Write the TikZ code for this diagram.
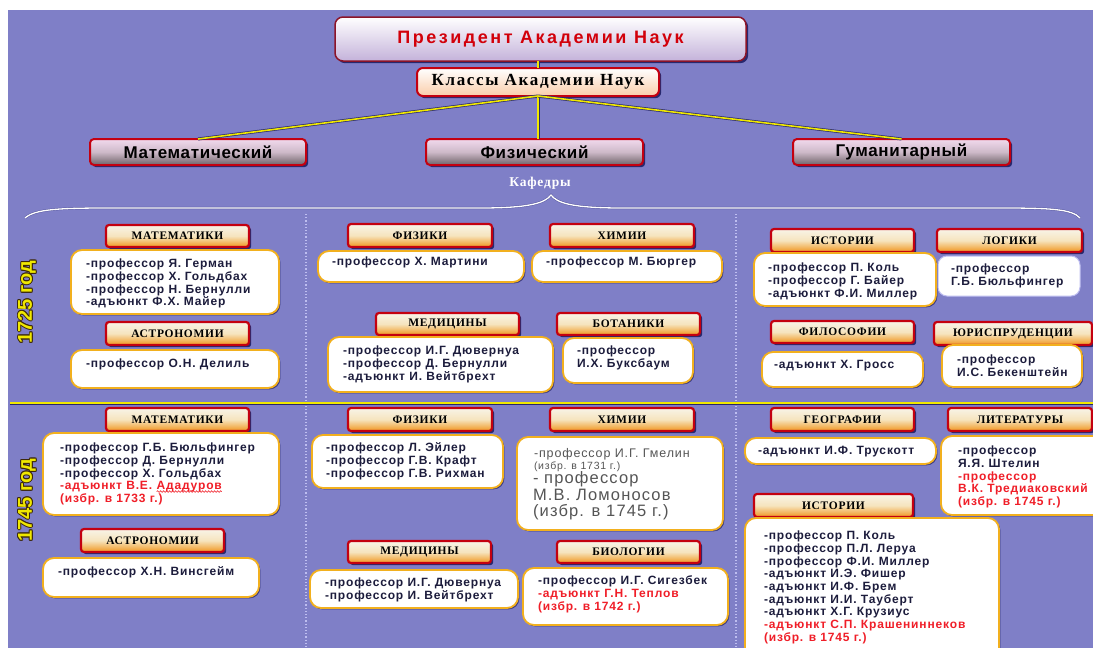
\documentclass[tikz,border=0pt]{standalone}
\usepackage{fontspec}
\setmainfont{Liberation Sans}
\newfontfamily\tnrfont{Liberation Serif}
\newfontfamily\tnrLS[LetterSpace=6]{Liberation Serif}
\newfontfamily\tnrCls[LetterSpace=10]{Liberation Serif}
\newfontfamily\sansLS[LetterSpace=7]{Liberation Sans}
\newfontfamily\sansWide[LetterSpace=14]{Liberation Sans}
\newfontfamily\sansMid[LetterSpace=4]{Liberation Sans}
\usetikzlibrary{shadows,decorations.pathmorphing}

\definecolor{bgpurple}{RGB}{127,127,199}
\definecolor{hdrred}{RGB}{196,0,16}
\definecolor{navy}{RGB}{40,40,110}
\definecolor{gold}{RGB}{242,176,30}
\definecolor{txt}{RGB}{28,28,60}
\definecolor{redt}{RGB}{240,30,40}
\definecolor{grayt}{RGB}{85,85,85}
\definecolor{ylw}{RGB}{240,232,0}
\definecolor{ydark}{RGB}{60,40,10}
\definecolor{hdrtop}{RGB}{248,244,232}
\definecolor{hdrmid}{RGB}{246,228,190}
\definecolor{hdrbot}{RGB}{240,150,30}
\definecolor{cattop}{RGB}{242,218,238}
\definecolor{catmid}{RGB}{205,185,200}
\definecolor{catbot}{RGB}{110,98,104}
\definecolor{presbot}{RGB}{196,178,218}
\definecolor{presframe}{RGB}{140,20,40}
\definecolor{presred}{RGB}{210,0,10}
\definecolor{clsbot}{RGB}{250,205,170}
\definecolor{dotc}{RGB}{190,190,240}

\newcommand\rl[1]{\textcolor{redt}{#1}}

\tikzset{
  every node/.style={inner sep=0pt, outer sep=0pt},
  shadowed/.style={drop shadow={shadow xshift=2.2pt, shadow yshift=-2.2pt, fill=navy, opacity=1}},
  hdrbox/.style={shadowed, draw=hdrred, line width=2.2pt, rounded corners=3pt,
    top color=hdrtop, bottom color=hdrbot, middle color=hdrmid,
    font=\tnrLS\bfseries\fontsize{11.5}{13}\selectfont, text=black},
  bodybox/.style={drop shadow={shadow xshift=1.4pt, shadow yshift=-1.4pt, fill=navy, opacity=0.8},
    draw=gold, line width=1.8pt, fill=white, rounded corners=11pt},
  plainbox/.style={fill=white, draw=dotc, line width=1pt, rounded corners=9pt},
  bodytext/.style={anchor=north west, align=left,
    font=\sansLS\bfseries\fontsize{12}{12.7}\selectfont, text=txt},
  presbox/.style={shadowed, draw=presframe, line width=1.5pt, rounded corners=8pt,
    top color=white, bottom color=presbot,
    font=\sansWide\bfseries\fontsize{18}{20}\selectfont, text=presred},
  clsbox/.style={shadowed, draw=hdrred, line width=2pt, rounded corners=6pt,
    top color=white, bottom color=clsbot,
    font=\tnrCls\bfseries\fontsize{17}{20}\selectfont, text=black},
  catbox/.style={shadowed, draw=hdrred, line width=2pt, rounded corners=4pt,
    top color=cattop, bottom color=catbot, middle color=catmid,
    font=\sansMid\bfseries\fontsize{17}{20}\selectfont, text=black},
  conn/.style={draw=ylw, line width=1.6pt, preaction={draw=navy, line width=3pt}},
  sepline/.style={draw=dotc, dotted, line width=1.2pt},
  bracepath/.style={draw=white, line width=1.3pt, preaction={draw=navy, line width=2.2pt, opacity=0.5}},
  yeartxt/.style={rotate=90, font=\bfseries\fontsize{20}{22}\selectfont},
  wavy/.style={draw=redt, line width=0.6pt, decorate, decoration={snake, amplitude=0.8pt, segment length=3pt}},
}

% generic box: style, name, x1, y1, x2, y2, text
\newcommand\bx[7]{%
  \pgfmathsetmacro\bxcx{(#3+#5)/2}\pgfmathsetmacro\bxcy{(#4+#6)/2}%
  \pgfmathsetmacro\bxw{#5-#3}\pgfmathsetmacro\bxh{#6-#4}%
  \node[#1, minimum width=\bxw pt, minimum height=\bxh pt] (#2) at (\bxcx,\bxcy) {#7};}
\newcommand\hdr[6]{\bx{hdrbox}{#1}{#2}{#3}{#4}{#5}{#6}}
\newcommand\bbox[8]{%
  \bx{bodybox}{#1}{#2}{#3}{#4}{#5}{}
  \node[bodytext] (#1-t) at (#6,#7) {#8};}
\newcommand\yearlabel[4]{%
  \foreach \dx/\dy [count=\i] in {-0.9/0,0.9/0,0/-0.9,0/0.9,-0.7/-0.7,0.7/0.7,-0.7/0.7,0.7/-0.7}{
    \node[yeartxt, text=ydark] (#1-o\i) at (#2+\dx,#3+\dy) {#4};}
  \node[yeartxt, text=ylw] (#1) at (#2,#3) {#4};}

\begin{document}
\begin{tikzpicture}[x=1pt,y=-1pt]
\useasboundingbox (0,0) rectangle (1093,648);
\clip (0,0) rectangle (1093,648);
\fill[white] (0,0) rectangle (1093,648);
\fill[bgpurple] (8,10) rectangle (1093,648);

% top hierarchy
\bx{presbox}{pres}{335}{17}{746}{61}{Президент Академии Наук}
\bx{clsbox}{cls}{417}{68}{659}{96}{Классы Академии Наук}
\bx{catbox}{mat}{90}{139}{306}{165}{Математический}
\bx{catbox}{fiz}{426}{139}{643}{165}{Физический}
\bx{catbox}{gum}{793}{139}{1010}{165}{Гуманитарный}
\draw[conn] (pres.south -| cls.north) -- (cls.north);
\draw[conn] (cls.south) -- (mat.north);
\draw[conn] (cls.south) -- (cls.south |- fiz.north);
\draw[conn] (cls.south) -- (gum.north);

\node[font=\tnrLS\bfseries\fontsize{13.5}{15}\selectfont, text=white] (kaf) at (540,183) {Кафедры};
\draw[bracepath] (25,218) .. controls (35,209) and (60,208) .. (110,208) -- (480,208)
  .. controls (530,208) and (545,203) .. (551,195)
  .. controls (557,203) and (572,208) .. (622,208) -- (1000,208)
  .. controls (1050,208) and (1072,209) .. (1080,218);

% separators
\coordinate (s1a) at (306,214); \coordinate (s1b) at (306,648);
\coordinate (s2a) at (736,214); \coordinate (s2b) at (736,648);
\draw[sepline] (s1a) -- (s1b);
\draw[sepline] (s2a) -- (s2b);
\coordinate (ha) at (10,403); \coordinate (hb) at (1093,403);
\draw[conn] (ha) -- (hb);

\yearlabel{y1725}{27}{302}{1725 год}
\yearlabel{y1745}{27}{500}{1745 год}

% ===== 1725 =====
\hdr{h1}{106}{225}{249}{247}{МАТЕМАТИКИ}
\bbox{b1}{71}{250}{279}{314}{86}{259}{-профессор Я. Герман\\-профессор Х. Гольдбах\\-профессор Н. Бернулли\\-адъюнкт Ф.Х. Майер}
\hdr{h2}{106}{322}{249}{345}{АСТРОНОМИИ}
\bbox{b2}{71}{350}{279}{388}{86}{359}{-профессор О.Н. Делиль}

\hdr{h3}{348}{224}{492}{247}{ФИЗИКИ}
\bbox{b3}{318}{251}{524}{282}{332}{257}{-профессор Х. Мартини}
\hdr{h4}{550}{224}{694}{247}{ХИМИИ}
\bbox{b4}{532}{251}{722}{282}{546}{257}{-профессор М. Бюргер}
\hdr{h5}{376}{313}{519}{335}{МЕДИЦИНЫ}
\bbox{b5}{328}{337}{553}{392}{343}{346}{-профессор И.Г. Дювернуа\\-профессор Д. Бернулли\\-адъюнкт И. Вейтбрехт}
\hdr{h6}{557}{313}{700}{335}{БОТАНИКИ}
\bbox{b6}{563}{338}{693}{383}{577}{346}{-профессор\\И.Х. Буксбаум}

\hdr{h7}{771}{229}{914}{252}{ИСТОРИИ}
\bbox{b7}{754}{253}{936}{306}{768}{263}{-профессор П. Коль\\-профессор Г. Байер\\-адъюнкт Ф.И. Миллер}
\hdr{h8}{937}{229}{1082}{252}{ЛОГИКИ}
\bx{plainbox}{b8}{938}{256}{1080}{296}{}
\node[bodytext] (b8-t) at (951,264) {-профессор\\Г.Б. Бюльфингер};
\hdr{h9}{771}{321}{914}{343}{ФИЛОСОФИИ}
\bbox{b9}{762}{352}{923}{387}{774}{360}{-адъюнкт Х. Гросс}
\hdr{h10}{934}{322}{1092}{345}{ЮРИСПРУДЕНЦИИ}
\bbox{b10}{942}{345}{1082}{387}{957}{355}{-профессор\\И.С. Бекенштейн}

% ===== 1745 =====
\hdr{k1}{106}{408}{249}{431}{МАТЕМАТИКИ}
\bbox{c1}{43}{433}{279}{515}{60}{443}{-профессор Г.Б. Бюльфингер\\-профессор Д. Бернулли\\-профессор Х. Гольдбах}
\node[bodytext, text=redt] (c1-r) at (60,481.1) {-адъюнкт В.Е.};
\node[bodytext, text=redt, anchor=base west] (c1-a) at ([xshift=4.5pt]c1-r.base east) {Ададуров};
\node[bodytext, text=redt] (c1-s) at (60,493.8) {(избр. в 1733 г.)};
\draw[wavy] ([yshift=-2.2pt]c1-a.base west) -- ([yshift=-2.2pt]c1-a.base east);
\hdr{k2}{81}{529}{224}{552}{АСТРОНОМИИ}
\bbox{c2}{43}{558}{259}{597}{58}{567}{-профессор Х.Н. Винсгейм}

\hdr{k3}{348}{408}{492}{431}{ФИЗИКИ}
\bbox{c3}{312}{435}{503}{488}{326}{443}{-профессор Л. Эйлер\\-профессор Г.В. Крафт\\-профессор Г.В. Рихман}
\hdr{k4}{550}{408}{694}{431}{ХИМИИ}
\bx{bodybox}{c4}{517}{437}{723}{530}{}
\node[anchor=north west, align=left, text=grayt, font=\sansLS\fontsize{12.5}{12}\selectfont] (c4-t) at (534,448)
  {-профессор И.Г. Гмелин\\{\fontsize{10.5}{12}\selectfont (избр. в 1731 г.)}};
\node[anchor=north west, align=left, text=grayt, font=\sansLS\fontsize{16.5}{16.3}\selectfont] (c4-u) at (533,472)
  {- профессор\\М.В. Ломоносов\\(избр. в 1745 г.)};
\hdr{k5}{348}{541}{491}{563}{МЕДИЦИНЫ}
\bbox{c5}{310}{570}{518}{608}{325}{578}{-профессор И.Г. Дювернуа\\-профессор И. Вейтбрехт}
\hdr{k6}{557}{541}{700}{563}{БИОЛОГИИ}
\bbox{c6}{523}{568}{728}{625}{538}{576}{-профессор И.Г. Сигезбек\\\rl{-адъюнкт Г.Н. Теплов}\\\rl{(избр. в 1742 г.)}}

\hdr{k7}{771}{408}{914}{431}{ГЕОГРАФИИ}
\bbox{c7}{745}{438}{936}{464}{758}{446}{-адъюнкт И.Ф. Трускотт}
\hdr{k8}{948}{408}{1092}{431}{ЛИТЕРАТУРЫ}
\bbox{c8}{941}{436}{1104}{515}{958}{446}{-профессор\\Я.Я. Штелин\\\rl{-профессор}\\\rl{В.К. Тредиаковский}\\\rl{(избр. в 1745 г.)}}
\hdr{k9}{754}{494}{913}{517}{ИСТОРИИ}
\bbox{c9}{745}{518}{999}{664}{764}{531}{-профессор П. Коль\\-профессор П.Л. Леруа\\-профессор Ф.И. Миллер\\-адъюнкт И.Э. Фишер\\-адъюнкт И.Ф. Брем\\-адъюнкт И.И. Тауберт\\-адъюнкт Х.Г. Крузиус\\\rl{-адъюнкт С.П. Крашениннеков}\\\rl{(избр. в 1745 г.)}}
\end{tikzpicture}
\end{document}
